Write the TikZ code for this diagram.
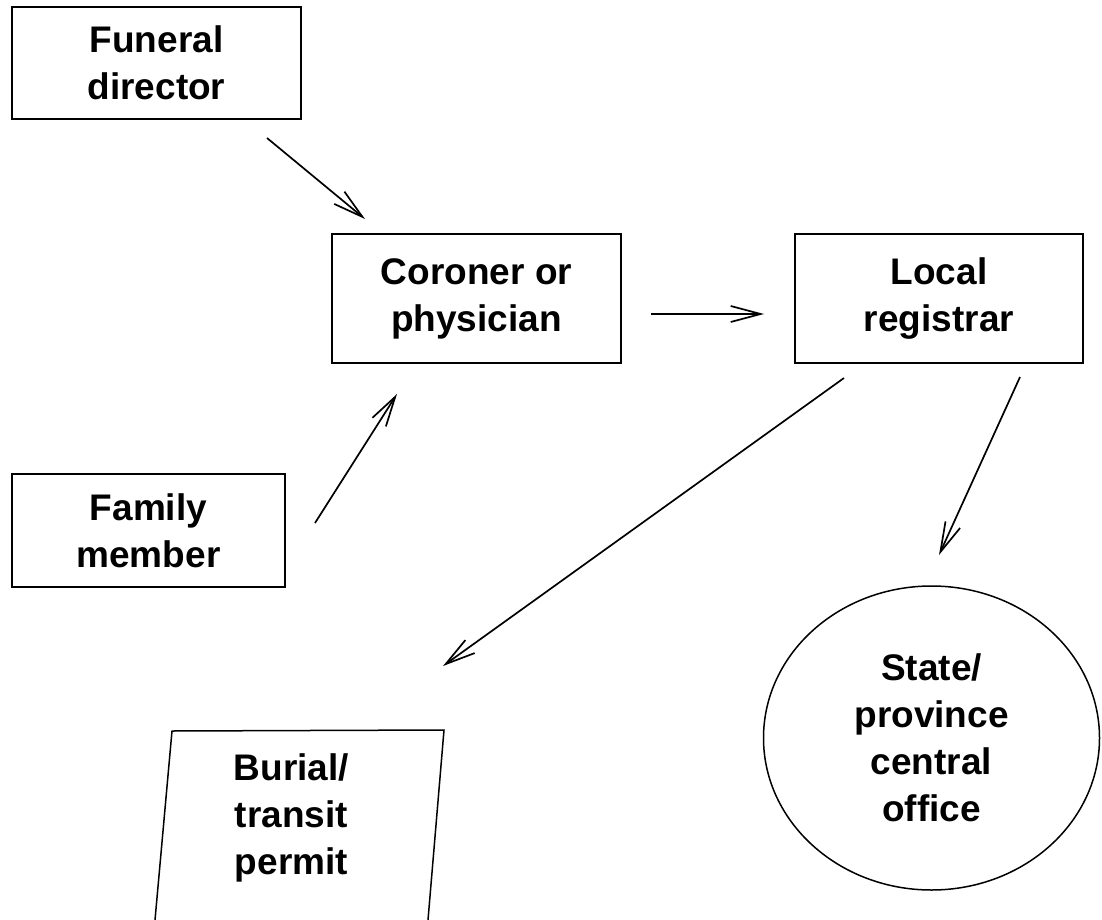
\documentclass[tikz,border=0pt]{standalone}
\usepackage{fontspec}
\setmainfont{Liberation Sans}
\usetikzlibrary{arrows.meta,shapes.geometric}
\begin{document}
\begin{tikzpicture}[x=1pt,y=-1pt,line width=1.7pt,
  lbl/.style={inner sep=0pt,align=center,font=\bfseries\fontsize{37}{47}\selectfont},
  box/.style={lbl,draw,rectangle},
  flow/.style={-{Straight Barb[length=30pt,width=16pt]},line width=1.7pt}]
\useasboundingbox (0,0) rectangle (1102,920);
\node[box,minimum width=289pt,minimum height=112pt] (fd) at (156.5,63) {Funeral\\director};
\node[box,minimum width=289pt,minimum height=129pt] (cp) at (476.5,298.5) {Coroner or\\physician};
\node[box,minimum width=288pt,minimum height=129pt] (lr) at (939,298.5) {Local\\registrar};
\node[box,minimum width=273pt,minimum height=113pt] (fm) at (148.5,530.5) {Family\\member};
\node[lbl,draw,ellipse,minimum width=336pt,minimum height=304pt,line width=1.5pt] (sc) at (931.5,738) {State/\\province\\central\\office};
% burial / transit permit (open at the bottom edge)
\coordinate (bpbl) at (155,920);
\coordinate (bptl) at (172,731);
\coordinate (bptr) at (444,730);
\coordinate (bpbr) at (428,920);
\draw[line width=1.5pt] (bpbl) -- (bptl) -- (bptr) -- (bpbr);
\node[lbl] (bp) at (291.5,818) {Burial/\\transit\\permit};
% connectors
\coordinate (a1s) at (267,138);  \coordinate (a1e) at (365,219);
\coordinate (a2s) at (651,314);  \coordinate (a2e) at (764,314);
\coordinate (a3s) at (315,523);  \coordinate (a3e) at (397,394);
\coordinate (a4s) at (844,378);  \coordinate (a4e) at (443,666);
\coordinate (a5s) at (1020,377); \coordinate (a5e) at (939,555);
\draw[flow] (a1s) -- (a1e);
\draw[flow] (a2s) -- (a2e);
\draw[flow] (a3s) -- (a3e);
\draw[flow] (a4s) -- (a4e);
\draw[flow] (a5s) -- (a5e);
\end{tikzpicture}
\end{document}
